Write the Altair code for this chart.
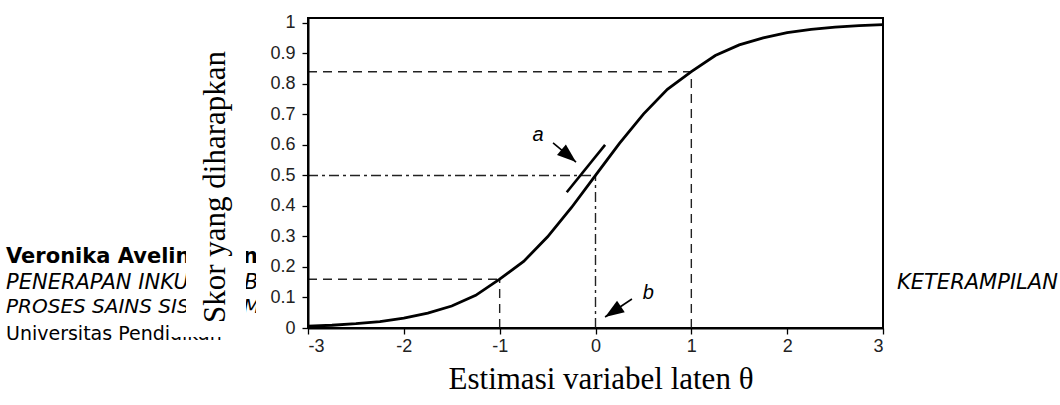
import math
import altair as alt
import pandas as pd

# Item characteristic curve: expected score against latent ability
theta = [-3.0, -2.75, -2.5, -2.25, -2.0, -1.75, -1.5, -1.25, -1.0, -0.75, -0.5, -0.25,
         0.0, 0.25, 0.5, 0.75, 1.0, 1.25, 1.5, 1.75, 2.0, 2.25, 2.5, 2.75, 3.0]
expected = [0.006, 0.009, 0.014, 0.021, 0.032, 0.049, 0.072, 0.107, 0.16, 0.218, 0.299, 0.395,
            0.5, 0.605, 0.701, 0.782, 0.84, 0.893, 0.928, 0.951, 0.968, 0.979, 0.986, 0.991, 0.994]

x_ticks = [-3, -2, -1, 0, 1, 2, 3]
y_ticks = [0, 0.1, 0.2, 0.3, 0.4, 0.5, 0.6, 0.7, 0.8, 0.9, 1]

# dashed reference lines (theta = -1 and theta = 1)
dash_x = [-3, -1, -3, 1]
dash_y = [0.16, 0, 0.84, 0]
dash_x2 = [-1, -1, 1, 1]
dash_y2 = [0.16, 0.16, 0.84, 0.84]

# dash-dot reference lines (difficulty b, P = 0.5)
dd_x = [-3, 0]
dd_y = [0.5, 0]
dd_x2 = [0, 0]
dd_y2 = [0.5, 0.5]

# slope marker "a" drawn beside the curve at theta = 0
slope_x, slope_y, slope_x2, slope_y2 = [-0.3], [0.445], [0.1], [0.6]

# annotation arrows and their letters
arrow_label = ["a", "b"]
arrow_x0 = [-0.443, 0.38]
arrow_y0 = [0.607, 0.095]
arrow_x1 = [-0.203, 0.1]
arrow_y1 = [0.544, 0.036]
label_x = [-0.6, 0.55]
label_y = [0.633, 0.115]

W, H = 575, 310
Y_MAX = 1.016
X_DOM = [-3, 3]

xs = alt.Scale(domain=X_DOM, nice=False, zero=False)
ys = alt.Scale(domain=[0, Y_MAX], nice=False, zero=False)

# arrowhead rotation from each arrow's on-screen direction
px_per_x = W / (X_DOM[1] - X_DOM[0])
px_per_y = H / Y_MAX
angles = []
for x0, y0, x1, y1 in zip(arrow_x0, arrow_y0, arrow_x1, arrow_y1):
    dx = (x1 - x0) * px_per_x
    dy = -(y1 - y0) * px_per_y
    angles.append(math.degrees(math.atan2(dx, -dy)) % 360)

curve = pd.DataFrame({"theta": theta, "p": expected})
dash_df = pd.DataFrame({"x": dash_x, "y": dash_y, "x2": dash_x2, "y2": dash_y2})
dd_df = pd.DataFrame({"x": dd_x, "y": dd_y, "x2": dd_x2, "y2": dd_y2})
slope_df = pd.DataFrame({"x": slope_x, "y": slope_y, "x2": slope_x2, "y2": slope_y2})
arrows = pd.DataFrame({"lab": arrow_label, "x0": arrow_x0, "y0": arrow_y0,
                       "x1": arrow_x1, "y1": arrow_y1, "lx": label_x, "ly": label_y,
                       "ang": angles})
one = pd.DataFrame({"k": [0]})

LEFT, TOP = 308, 18


def page_text(txt, px_, py_, size=20, weight="normal", style="normal", font="DejaVu Sans",
              align="left", angle=0, color="black"):
    kw = dict(text=txt, fontSize=size, fontWeight=weight, fontStyle=style, font=font,
              align=align, baseline="middle", color=color)
    if angle:
        kw["angle"] = angle
    return alt.Chart(one).mark_text(**kw).encode(
        x=alt.value(px_ - LEFT), y=alt.value(py_ - TOP))


def white_box(x0, x1, y0, y1):
    return alt.Chart(one).mark_rect(color="white").encode(
        x=alt.value(x0 - LEFT), x2=alt.value(x1 - LEFT),
        y=alt.value(y0 - TOP), y2=alt.value(y1 - TOP))


# surrounding page text, partly hidden behind the figure
page = [
    page_text("Veronika Avelin", 6, 257, size=21, weight="bold"),
    page_text("PENERAPAN INKUI", 6, 283, size=21, style="italic"),
    page_text("PROSES SAINS SISW", 6, 307, size=20, style="italic"),
    page_text("Universitas Pendidikan", 6, 334, size=19),
    page_text("KETERAMPILAN", 897, 283, size=21, style="italic"),
    page_text("n", 243, 257, size=21, weight="bold"),
    page_text("B", 244, 283, size=21, style="italic"),
    page_text("M", 243, 307, size=20, style="italic"),
]
boxes = [white_box(186, 246, 0, 337), white_box(170, 186, 322, 337),
         white_box(256, 300, 0, 405)]

titles = [
    page_text("Skor yang diharapkan", 216, 187, size=31, font="Liberation Serif",
              align="center", angle=270),
    page_text("Estimasi variabel laten θ", 601, 380, size=31, font="Liberation Serif",
              align="center"),
]

axis_common = dict(title=None, grid=False, tickSize=6, tickColor="black", tickWidth=1.3,
                   domainColor="black", domainWidth=2, labelFont="Liberation Sans",
                   labelFontSize=18, labelColor="#222", labelOverlap=False, zindex=1,
                   labelExpr="'' + datum.value")
x_axis = alt.Axis(values=x_ticks, labelPadding=3, **axis_common)
y_axis = alt.Axis(values=y_ticks, labelPadding=7, **axis_common)


def px(field):
    return alt.X(field, scale=xs, axis=x_axis)


def py(field):
    return alt.Y(field, scale=ys, axis=y_axis)


dashed = alt.Chart(dash_df).mark_rule(color="#222", strokeWidth=1.4, strokeDash=[9, 6]).encode(
    x=px("x:Q"), y=py("y:Q"), x2="x2:Q", y2="y2:Q")

dashdot = alt.Chart(dd_df).mark_rule(color="#222", strokeWidth=1.4,
                                     strokeDash=[10, 4, 3, 4]).encode(
    x=px("x:Q"), y=py("y:Q"), x2="x2:Q", y2="y2:Q")

icc = alt.Chart(curve).mark_line(color="black", strokeWidth=2.8).encode(
    x=px("theta:Q"), y=py("p:Q"))

slope = alt.Chart(slope_df).mark_rule(color="black", strokeWidth=2.6).encode(
    x=px("x:Q"), y=py("y:Q"), x2="x2:Q", y2="y2:Q")

shafts = alt.Chart(arrows).mark_rule(color="black", strokeWidth=1.6).encode(
    x=px("x0:Q"), y=py("y0:Q"), x2="x1:Q", y2="y1:Q")

heads = alt.Chart(arrows).mark_point(
    shape="M0,0L-0.4,1.1L0.4,1.1Z", filled=True, color="black", opacity=1, size=1200
).encode(x=px("x1:Q"), y=py("y1:Q"), angle=alt.Angle("ang:Q", scale=None))

letters = alt.Chart(arrows).mark_text(font="Liberation Sans", fontSize=20, fontStyle="italic",
                                      color="black").encode(
    x=px("lx:Q"), y=py("ly:Q"), text="lab:N")

chart = alt.layer(
    *page, *boxes, *titles, dashed, dashdot, icc, slope, shafts, heads, letters
).properties(
    width=W, height=H,
    autosize=alt.AutoSizeParams(type="none"),
    padding={"left": LEFT, "top": TOP, "right": 1060 - LEFT - W, "bottom": 405 - TOP - H},
    background="white",
).configure_view(stroke="black", strokeWidth=2)

chart.save("out.html", embed_options={"renderer": "svg", "actions": False})
